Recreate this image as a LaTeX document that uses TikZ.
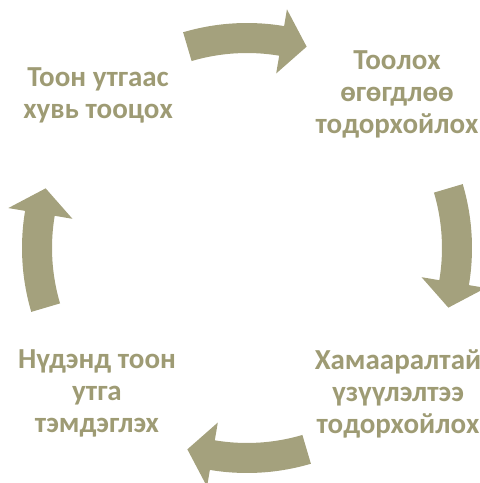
\documentclass[tikz,border=0pt]{standalone}
\usepackage{fontspec}
\setmainfont{Carlito}
\definecolor{olivearrow}{RGB}{164,161,125}
\definecolor{olivetext}{RGB}{158,155,116}
% one curved arrow of the cycle, #1 = mid angle
\newcommand{\cyclearrow}[1]{%
	\fill[arrow] (#1+16.5:225) arc[start angle=#1+16.5, end angle=#1-9.5, radius=225]
		-- (#1-9.5:242) -- (#1-16.5:210) -- (#1-9.5:177) -- (#1-9.5:195)
		arc[start angle=#1-9.5, end angle=#1+16.5, radius=195] -- cycle;}
\begin{document}
\begin{tikzpicture}[x=1pt, y=1pt]
	\tikzstyle{arrow} = [fill=olivearrow]
	\tikzstyle{stage} = [align=center, text=olivetext, font=\bfseries\fontsize{29}{32}\selectfont, inner sep=0pt]
	\useasboundingbox (0,0) rectangle (480,483);
	\begin{scope}[shift={(247,235)}]
		\cyclearrow{90}
		\cyclearrow{0}
		\cyclearrow{-90}
		\cyclearrow{180}
	\end{scope}
	\node[stage] (value) at (98,388) {Тоон утгаас\\хувь тооцох};
	\node[stage] (data) at (397,389) {Тоолох\\өгөгдлөө\\тодорхойлох};
	\node[stage] (index) at (398,89) {Хамааралтай\\үзүүлэлтээ\\тодорхойлох};
	\node[stage] (record) at (97,90) {Нүдэнд тоон\\утга\\тэмдэглэх};
\end{tikzpicture}
\end{document}
